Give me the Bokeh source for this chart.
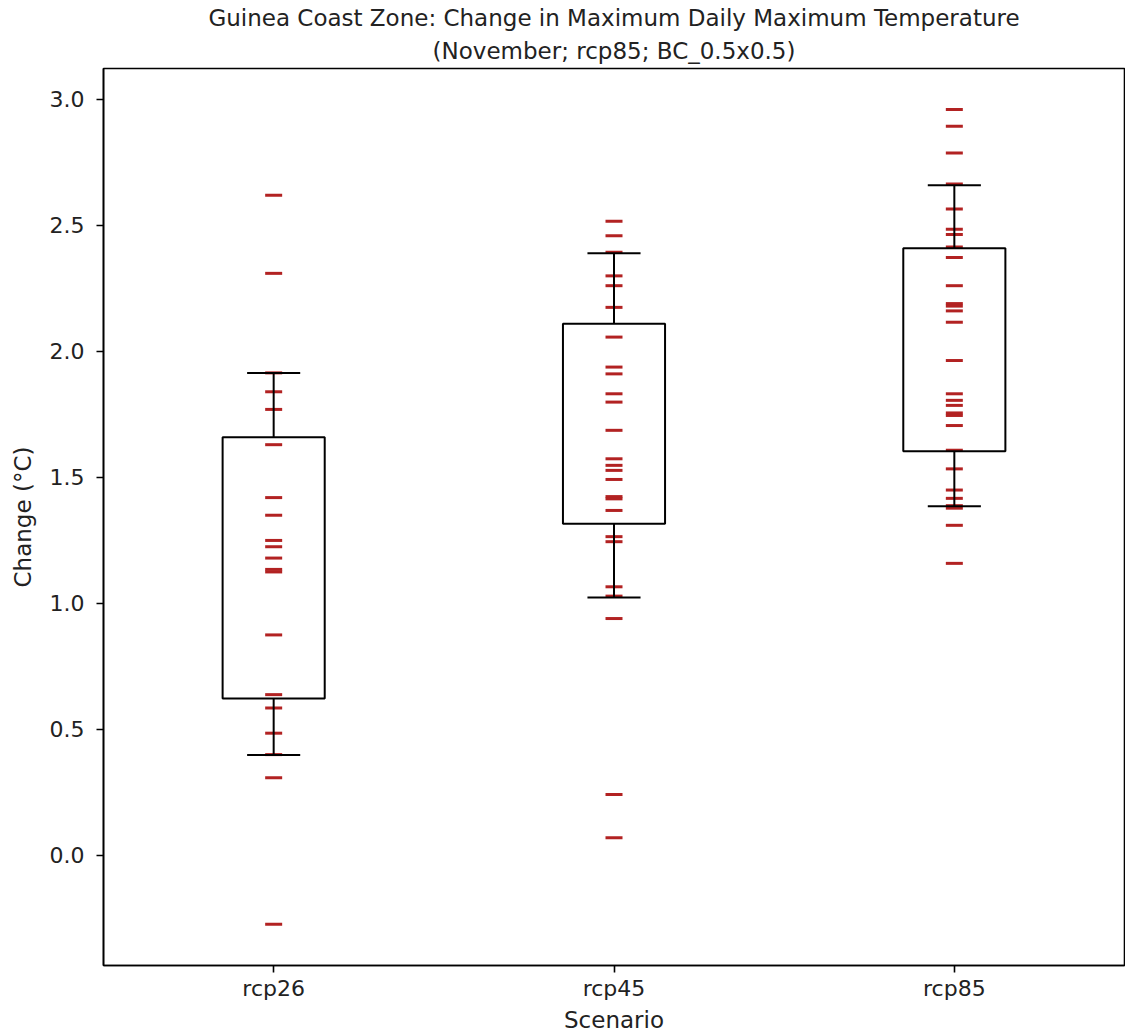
from bokeh.plotting import figure
from bokeh.models import ColumnDataSource, FactorRange, Range1d, FixedTicker, PrintfTickFormatter, Title
from bokeh.transform import dodge
from bokeh.embed import file_html
from bokeh.resources import INLINE

scenarios = ["rcp26", "rcp45", "rcp85"]

rcp26 = [2.62, 2.31, 1.915, 1.84, 1.77, 1.63, 1.42, 1.35, 1.25, 1.225, 1.18, 1.135, 1.125,
         0.875, 0.638, 0.585, 0.485, 0.40, 0.308, -0.273]
rcp45 = [2.517, 2.459, 2.394, 2.300, 2.261, 2.175, 2.057, 1.938, 1.911, 1.832, 1.799, 1.687,
         1.574, 1.548, 1.528, 1.492, 1.424, 1.415, 1.369, 1.265, 1.245, 1.066, 1.029, 0.940,
         0.242, 0.070]
rcp85 = [2.960, 2.894, 2.788, 2.665, 2.565, 2.485, 2.464, 2.415, 2.373, 2.261, 2.190, 2.180,
         2.161, 2.116, 1.964, 1.832, 1.806, 1.786, 1.756, 1.746, 1.706, 1.608, 1.534, 1.450,
         1.417, 1.388, 1.378, 1.310, 1.159]

box_q1 = [0.623, 1.316, 1.604]
box_q3 = [1.660, 2.110, 2.410]
whisker_low = [0.398, 1.024, 1.386]
whisker_high = [1.915, 2.390, 2.660]

y_ticks = [0.0, 0.5, 1.0, 1.5, 2.0, 2.5, 3.0]

title_line1 = "Guinea Coast Zone: Change in Maximum Daily Maximum Temperature"
title_line2 = "(November; rcp85; BC_0.5x0.5)"
FONT = "DejaVu Sans"
TXT = "#222222"

series = [rcp26, rcp45, rcp85]
px, py = [], []
for name, vals in zip(scenarios, series):
    px += [name] * len(vals)
    py += vals
pts = ColumnDataSource(dict(x=px, y=py))
boxes = ColumnDataSource(dict(x=scenarios, q1=box_q1, q3=box_q3, wlo=whisker_low, whi=whisker_high))

p = figure(x_range=FactorRange(*scenarios, range_padding=0), y_range=Range1d(-0.437, 3.123),
           width=1125, height=1036, output_backend="svg", toolbar_location=None,
           min_border_left=103, min_border_right=1, min_border_top=68, min_border_bottom=71)
p.title = None
p.add_layout(Title(text=title_line2, align="center", text_font=FONT, text_font_size="23px",
                   text_font_style="normal", text_color=TXT, standoff=10), "above")
p.add_layout(Title(text=title_line1, align="center", text_font=FONT, text_font_size="23px",
                   text_font_style="normal", text_color=TXT, standoff=0), "above")

p.xgrid.visible = False
p.ygrid.visible = False
p.outline_line_color = "black"
p.outline_line_width = 1.6
p.outline_line_alpha = 1

# markers
p.scatter(x="x", y="y", source=pts, marker="dash", size=17, line_color="#b22222",
          line_width=3, fill_color="#b22222")

# boxes and whiskers
p.vbar(x="x", width=0.3, bottom="q1", top="q3", source=boxes, fill_color=None,
       line_color="black", line_width=2)
p.segment(x0="x", y0="q3", x1="x", y1="whi", source=boxes, line_color="black", line_width=2)
p.segment(x0="x", y0="q1", x1="x", y1="wlo", source=boxes, line_color="black", line_width=2)
for col in ("whi", "wlo"):
    p.segment(x0=dodge("x", -0.078, range=p.x_range), y0=col,
              x1=dodge("x", 0.078, range=p.x_range), y1=col,
              source=boxes, line_color="black", line_width=2)

p.yaxis.ticker = FixedTicker(ticks=y_ticks)
p.yaxis.formatter = PrintfTickFormatter(format="%.1f")
p.yaxis.axis_label = "Change (°C)"
p.xaxis.axis_label = "Scenario"

for ax in (p.xaxis[0], p.yaxis[0]):
    ax.axis_label_text_font = FONT
    ax.axis_label_text_font_size = "23px"
    ax.axis_label_text_font_style = "normal"
    ax.axis_label_text_color = TXT
    ax.major_label_text_font = FONT
    ax.major_label_text_font_size = "22px"
    ax.major_label_text_color = TXT
    ax.axis_line_color = "black"
    ax.axis_line_width = 1.6
    ax.major_tick_line_color = "black"
    ax.major_tick_line_width = 1.6
    ax.major_tick_out = 7
    ax.major_tick_in = 0
    ax.minor_tick_out = 0
    ax.minor_tick_in = 0

p.xaxis.major_label_standoff = 3
p.xaxis.axis_label_standoff = 3
p.yaxis.major_label_standoff = 12
p.yaxis.axis_label_standoff = 11

open("out.html", "w").write(file_html(p, INLINE))
